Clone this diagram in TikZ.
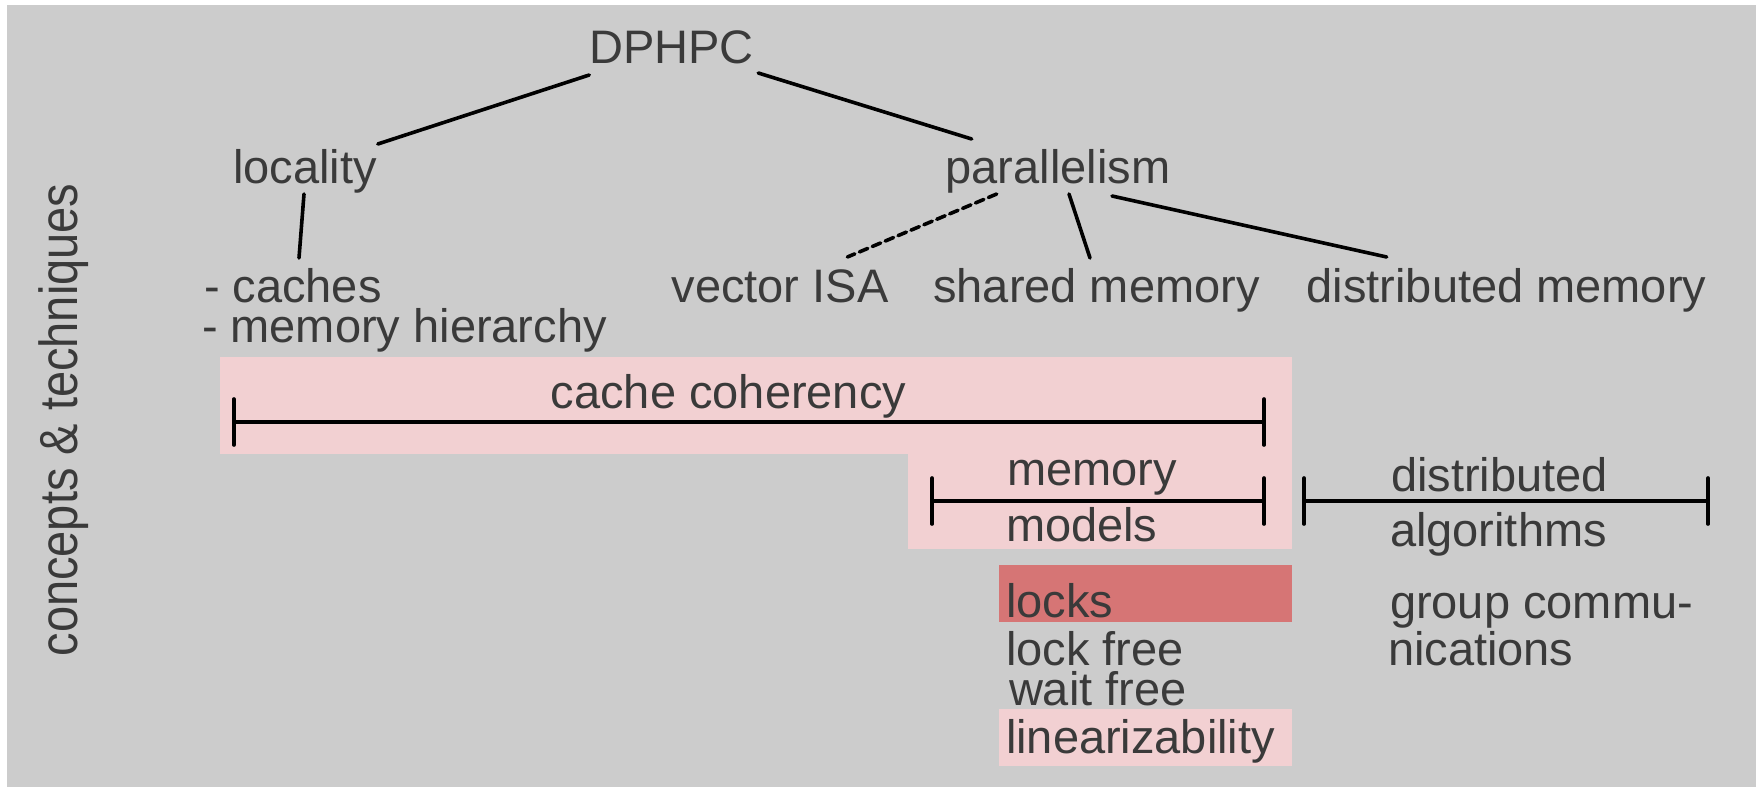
\documentclass[tikz,border=0pt]{standalone}
\usepackage{fontspec}
\setmainfont{Liberation Sans}
\usetikzlibrary{calc}
\definecolor{bggray}{RGB}{204,204,204}
\definecolor{pinkbox}{RGB}{242,208,210}
\definecolor{redbox}{RGB}{214,117,117}
\definecolor{txt}{RGB}{58,58,58}
\tikzset{
 lbl/.style={inner sep=0pt, outer sep=0pt, text=txt, font=\fontsize{23.5}{28}\selectfont, text height=17pt, text depth=5pt},
 conn/.style={draw=black, line width=1.8pt, line cap=round},
 dashconn/.style={conn, dash pattern=on 4.5pt off 2.5pt},
 spanline/.style={draw=black, line width=1.8pt, line cap=round},
}
\begin{document}
\begin{tikzpicture}[x=0.5pt,y=-0.5pt]
\useasboundingbox (0,0) rectangle (1760,787);
\fill[white] (0,0) rectangle (1760,787);
\fill[bggray] (7,5) rectangle (1756,787);
\fill[pinkbox] (220,357) rectangle (1292,454);
\fill[pinkbox] (908,454) rectangle (1292,549);
\fill[redbox] (999,565) rectangle (1292,622);
\fill[pinkbox] (999,709) rectangle (1292,766);

\node[lbl, anchor=base] (dphpc) at (671.5,63) {DPHPC};
\node[lbl, anchor=base] (loc) at (305,183) {locality};
\node[lbl, anchor=base] (par) at (1058,183) {parallelism};
\node[lbl, anchor=base west] (caches) at (204,302) {- caches};
\node[lbl, anchor=base west] (memh) at (202,342) {- memory hierarchy};
\node[lbl, anchor=base] (vec) at (780,302) {vector ISA};
\node[lbl, anchor=base] (shm) at (1096.5,302) {shared memory};
\node[lbl, anchor=base] (dsm) at (1506.5,302) {distributed memory};
\node[lbl, anchor=base] (cc) at (728.5,408) {cache coherency};
\node[lbl, anchor=base west] (mem) at (1007,485) {memory};
\node[lbl, anchor=base west] (mod) at (1006,541) {models};
\node[lbl, anchor=base west] (dist) at (1391,491) {distributed};
\node[lbl, anchor=base west] (alg) at (1390,546) {algorithms};
\node[lbl, anchor=base west] (locks) at (1006,617) {locks};
\node[lbl, anchor=base west] (lfree) at (1006,665) {lock free};
\node[lbl, anchor=base west] (wfree) at (1009,705) {wait free};
\node[lbl, anchor=base west] (lin) at (1006,753) {linearizability};
\node[lbl, anchor=base west] (grp) at (1390,618) {group commu-};
\node[lbl, anchor=base west] (nic) at (1388,665) {nications};
\node[lbl, anchor=base, rotate=90] (side) at (77,420) {\scalebox{1}[1.14]{concepts \& techniques}};

\draw[conn] ([shift={(0,2)}]dphpc.south west) -- ([shift={(1,-5)}]loc.north east);
\draw[conn] ([shift={(4.5,0)}]dphpc.south east) -- ([shift={(26,-10)}]par.north west);
\draw[conn] ([shift={(-1,1)}]loc.south) -- ([shift={(95,-10)}]caches.north west);
\draw[dashconn] ([shift={(51,1)}]par.south west) -- ([shift={(-41,-11)}]vec.north east);
\draw[conn] ([shift={(11,1)}]par.south) -- ([shift={(-6.5,-10)}]shm.north);
\draw[conn] ([shift={(54,3)}]par.south) -- ([shift={(80,-11)}]dsm.north west);

\draw[spanline] (234,399) -- (234,445) (234,422) -- (1264,422) (1264,399) -- (1264,445);
\draw[spanline] (932,478) -- (932,524) (932,501) -- (1264,501) (1264,478) -- (1264,524);
\draw[spanline] (1304,478) -- (1304,524) (1304,501) -- (1708,501) (1708,478) -- (1708,524);
\end{tikzpicture}
\end{document}
